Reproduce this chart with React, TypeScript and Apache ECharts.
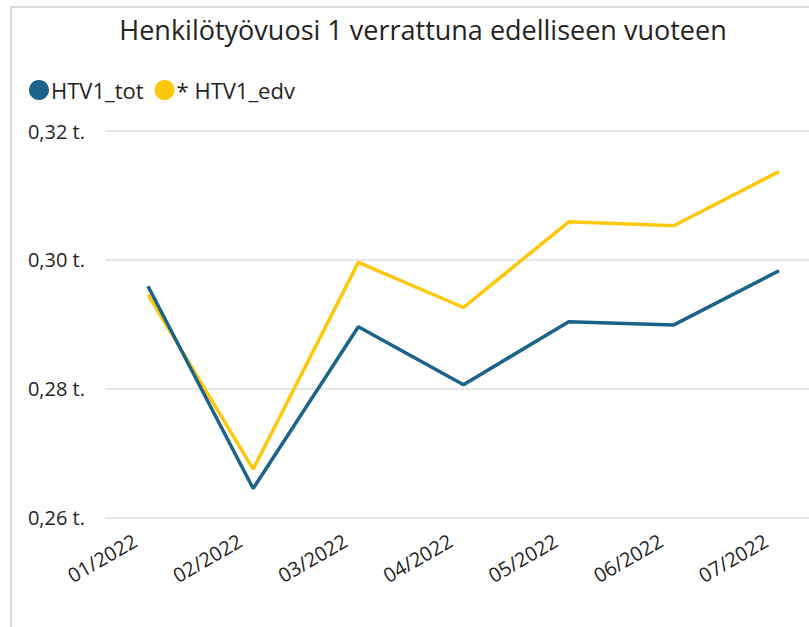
import React, { useEffect, useRef } from "react";
import * as echarts from "echarts";

const categories = ["01/2022", "02/2022", "03/2022", "04/2022", "05/2022", "06/2022", "07/2022"];
const htv1Tot = [0.2959, 0.2645, 0.2896, 0.2806, 0.2904, 0.2899, 0.2983];
const htv1Edv = [0.2946, 0.2675, 0.2996, 0.2926, 0.3059, 0.3053, 0.3137];
const seriesNames = ["HTV1_tot", "* HTV1_edv"];
const yMin = 0.26;
const yMax = 0.32;
const yStep = 0.02;

const FONT = "'Open Sans', 'Noto Sans', sans-serif";
const TEXT = "#252423";
const BLUE = "#1b6388";
const YELLOW = "#fec80a";

export default function App() {
  const ref = useRef<HTMLDivElement>(null);
  useEffect(() => {
    document.body.style.margin = "0";
    const chart = echarts.init(ref.current!, undefined, { renderer: "svg" });
    const gridTop = 131;
    const gridBottom = 627 - 517.5;
    chart.setOption({
      animation: false,
      backgroundColor: "#ffffff",
      title: {
        text: "Henkilötyövuosi 1 verrattuna edelliseen vuoteen",
        left: 418,
        textAlign: "center",
        top: 11,
        textStyle: { fontFamily: FONT, fontSize: 27, fontWeight: "normal", color: TEXT },
      },
      legend: {
        left: 24,
        top: 74,
        icon: "circle",
        itemWidth: 20,
        itemHeight: 20,
        itemGap: 11,
        textStyle: { fontFamily: FONT, fontSize: 22, color: TEXT, padding: [0, 0, 0, -3] },
        data: seriesNames,
      },
      graphic: [
        {
          type: "rect",
          shape: { x: 11, y: 7, width: 820, height: 640 },
          style: { fill: "none", stroke: "#dadada", lineWidth: 2 },
          silent: true,
        },
      ],
      grid: [
        { left: 105, right: 0, top: gridTop, bottom: gridBottom },
        { left: 148, right: 30, top: gridTop, bottom: gridBottom },
      ],
      xAxis: [
        { gridIndex: 0, type: "value", show: false, min: 0, max: 1 },
        {
          gridIndex: 1,
          type: "category",
          data: categories,
          boundaryGap: false,
          axisLine: { show: false },
          axisTick: { show: false },
          axisLabel: {
            rotate: 30,
            margin: 14,
            padding: [0, 15, 0, 0],
            fontFamily: FONT,
            fontSize: 20,
            color: TEXT,
          },
        },
      ],
      yAxis: [
        {
          gridIndex: 0,
          type: "value",
          min: yMin,
          max: yMax,
          interval: yStep,
          axisLine: { show: false },
          axisTick: { show: false },
          splitLine: { lineStyle: { color: "#e6e6e6", width: 2 } },
          axisLabel: {
            margin: 20,
            fontFamily: FONT,
            fontSize: 20,
            color: TEXT,
            formatter: (v: number) => v.toFixed(2).replace(".", ",") + " t.",
          },
        },
        { gridIndex: 1, type: "value", min: yMin, max: yMax, interval: yStep, show: false },
      ],
      series: [
        {
          name: seriesNames[0],
          type: "line",
          xAxisIndex: 1,
          yAxisIndex: 1,
          data: htv1Tot,
          showSymbol: false,
          symbol: "none",
          color: BLUE,
          lineStyle: { width: 3.5, color: BLUE },
          z: 3,
        },
        {
          name: seriesNames[1],
          type: "line",
          xAxisIndex: 1,
          yAxisIndex: 1,
          data: htv1Edv,
          showSymbol: false,
          symbol: "none",
          color: YELLOW,
          lineStyle: { width: 3.5, color: YELLOW },
          z: 2,
        },
      ],
    });
    return () => chart.dispose();
  }, []);
  return (
    <div
      ref={ref}
      style={{ position: "fixed", left: 0, top: 0, width: 809, height: 627 }}
    />
  );
}
